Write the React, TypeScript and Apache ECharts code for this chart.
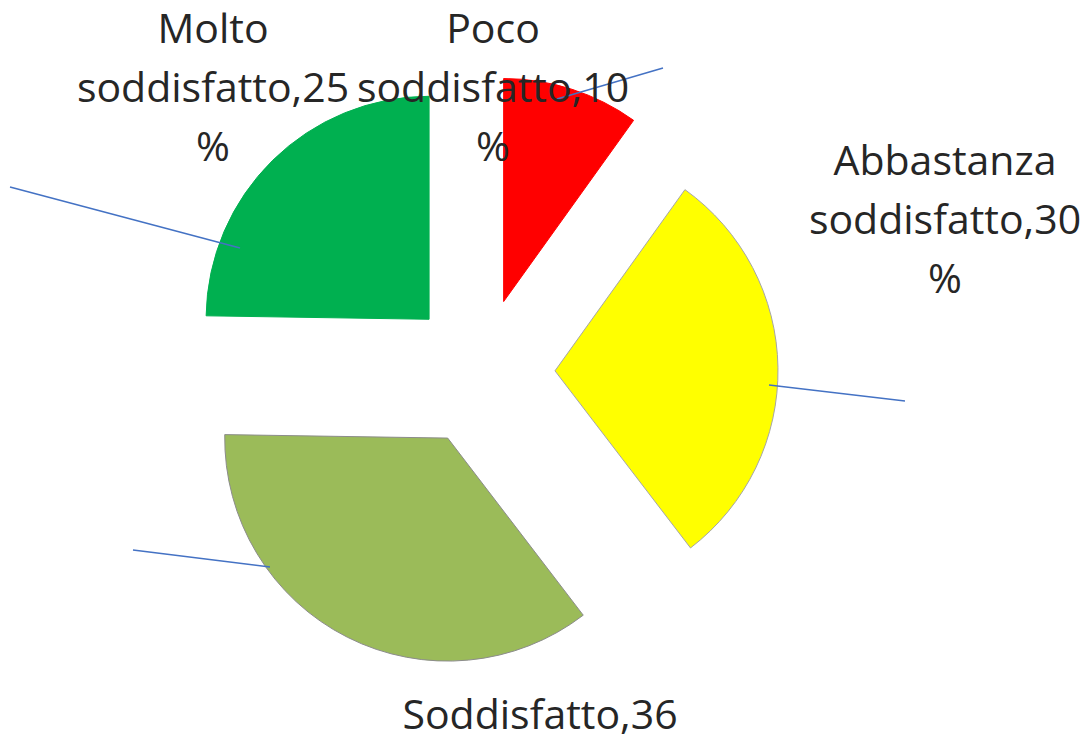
import React, { useEffect, useRef } from "react";
import * as echarts from "echarts";

const categories = ["Poco soddisfatto", "Abbastanza soddisfatto", "Soddisfatto", "Molto soddisfatto"];
const values = [10, 30, 36, 25];
const labelTexts = [
  "Poco\nsoddisfatto,10\n%",
  "Abbastanza\nsoddisfatto,30\n%",
  "Soddisfatto,36",
  "Molto\nsoddisfatto,25\n%",
];
const colors = ["#FF0000", "#FFFF00", "#9BBB59", "#00B050"];
const borders = ["#FF0000", "#A6A6A6", "#8C8C8C", "#00B050"];

// label anchor positions (layout only)
const labelPos = [
  [493, 86],
  [945, 218],
  [540, 713],
  [213, 86],
];
// leader line endpoints (layout only)
const leaderLines = [
  [557, 99, 663, 68],
  [769, 385, 905, 401],
  [270, 567, 133, 550],
  [240, 248, 10, 187],
];

export default function App() {
  const ref = useRef<HTMLDivElement>(null);
  useEffect(() => {
    const chart = echarts.init(ref.current!, null, { renderer: "svg" });
    const graphics: any[] = [];
    leaderLines.forEach((l) => {
      graphics.push({
        type: "line",
        silent: true,
        z: 10,
        shape: { x1: l[0], y1: l[1], x2: l[2], y2: l[3] },
        style: { stroke: "#4472C4", lineWidth: 1.5 },
      });
    });
    labelTexts.forEach((t, i) => {
      graphics.push({
        type: "text",
        silent: true,
        z: 11,
        x: labelPos[i][0],
        y: labelPos[i][1],
        style: {
          text: t,
          fill: "#262626",
          font: '41px "Open Sans"',
          lineHeight: 59,
          align: "center",
          verticalAlign: "middle",
        },
      });
    });
    chart.setOption({
      animation: false,
      backgroundColor: "#ffffff",
      graphic: graphics,
      series: [
        {
          type: "pie",
          center: [481, 372],
          radius: 223,
          startAngle: 90,
          clockwise: true,
          selectedMode: "multiple",
          selectedOffset: 74,
          emphasis: { disabled: true },
          label: { show: false },
          labelLine: { show: false },
          data: categories.map((name, i) => ({
            name,
            value: values[i],
            selected: true,
            itemStyle: { color: colors[i], borderColor: borders[i], borderWidth: 1 },
          })),
        },
      ],
    });
    return () => chart.dispose();
  }, []);
  return (
    <div
      ref={ref}
      style={{ position: "fixed", left: 0, top: 0, width: 1092, height: 742, background: "#fff" }}
    />
  );
}
